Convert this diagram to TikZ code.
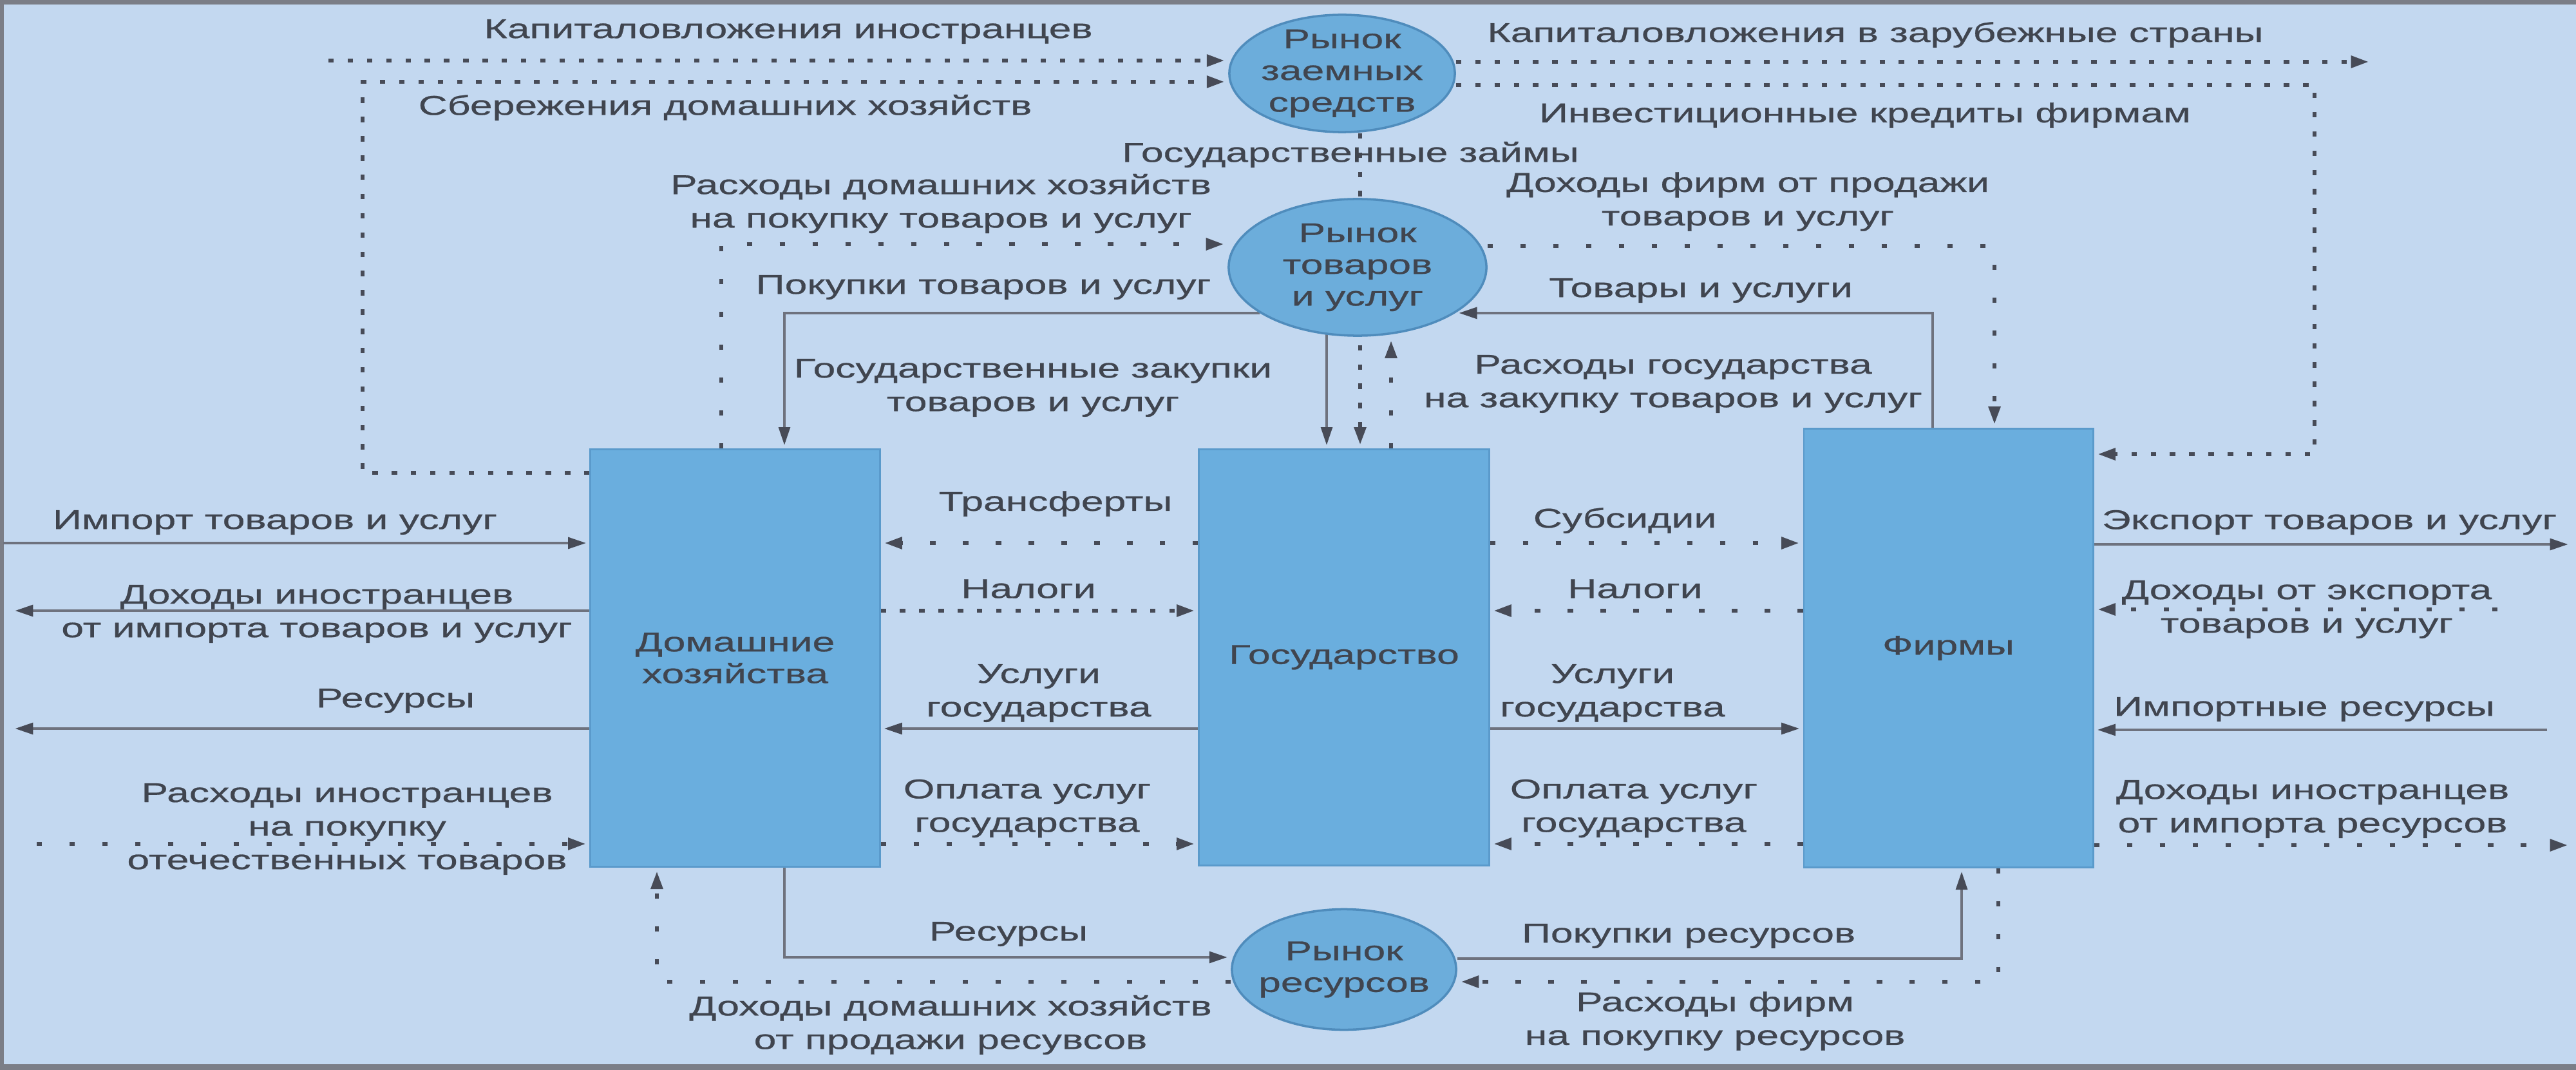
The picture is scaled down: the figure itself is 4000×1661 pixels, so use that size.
\documentclass[tikz,border=0pt]{standalone}
\usepackage{fontspec}
\setmainfont{Liberation Sans}[FakeStretch=1.48,FakeBold=0.6]
\usetikzlibrary{arrows.meta,shapes.geometric}
\definecolor{bgc}{HTML}{C3D8F0}
\definecolor{boxc}{HTML}{6AAEDE}
\definecolor{boxd}{HTML}{5A9ACB}
\definecolor{ellc}{HTML}{6CADDB}
\definecolor{elld}{HTML}{4F8CBC}
\definecolor{txt}{HTML}{40454F}
\definecolor{ln}{HTML}{6E727E}
\definecolor{dt}{HTML}{474B57}
\definecolor{rim}{HTML}{7B7E87}
\pgfdeclarelayer{bg}
\pgfdeclarelayer{edges}
\pgfsetlayers{bg,edges,main}
\tikzset{
  lbl/.style={text=txt, font=\fontsize{12}{14.8}\selectfont, align=center, inner sep=0pt},
  intext/.style={text=txt, font=\fontsize{12}{14}\selectfont, align=center, inner sep=0pt},
  agent/.style={rectangle, draw=boxd, line width=0.8pt, fill=boxc, text=txt,
    font=\fontsize{12}{14}\selectfont, align=center, inner sep=0pt},
  mkt/.style={ellipse, draw=elld, line width=1pt, fill=ellc, inner sep=0pt},
  tip/.style={-{Triangle[length=8pt,width=5pt,color=dt]}, shorten >=1.5pt},
  solidflow/.style={draw=ln, line width=1.2pt, tip},
  denseflow/.style={draw=dt, line width=1.9pt, dash pattern=on 2.4pt off 6.1pt, tip},
  sparseflow/.style={draw=dt, line width=1.9pt, dash pattern=on 2.4pt off 12.1pt, tip},
}
\begin{document}
\begin{tikzpicture}[x=0.01cm, y=-0.01cm]
\path[use as bounding box] (0,0) rectangle (4000,1661);
\begin{pgfonlayer}{bg}
  \fill[bgc] (0,0) rectangle (4000,1661);
  \fill[rim] (0,0) rectangle (4000,7);
  \fill[rim] (0,1652) rectangle (4000,1661);
  \fill[rim] (0,0) rectangle (6,1661);
\end{pgfonlayer}

% agents
\node[agent, minimum width=4.49cm, minimum height=6.47cm] (dom) at (1141.5,1021.5) {Домашние\\хозяйства};
\node[agent, minimum width=4.5cm, minimum height=6.45cm] (gov) at (2087,1020.5) {Государство};
\node[agent, minimum width=4.49cm, minimum height=6.8cm] (firms) at (3025.5,1006) {Фирмы};

% markets
\node[mkt, minimum width=3.5cm, minimum height=1.82cm] (L) at (2084,114) {};
\node[intext] (Lt) at (L) {Рынок\\заемных\\средств};
\node[mkt, minimum width=4cm, minimum height=2.12cm] (G) at (2108,415) {};
\node[intext] (Gt) at (G) {Рынок\\товаров\\и услуг};
\node[mkt, minimum width=3.48cm, minimum height=1.87cm] (R) at (2087,1505) {};
\node[intext] (Rt) at (R) {Рынок\\ресурсов};

% helper coordinates
\coordinate (yA) at (0,843);
\coordinate (yB) at (0,948);
\coordinate (yC) at (0,1131);
\coordinate (yD) at (0,1310);

\begin{pgfonlayer}{edges}
  % left of households
  \coordinate (wA) at (5,843);
  \draw[solidflow] (wA) -- (dom.west |- wA);
  \coordinate (wB) at (18,948);
  \draw[solidflow] (dom.west |- wB) -- (wB);
  \coordinate (wC) at (18,1131);
  \draw[solidflow] (dom.west |- wC) -- (wC);
  \coordinate (wD) at (57,1310);
  \draw[sparseflow] (wD) -- (dom.west |- wD);
  % right of firms
  \coordinate (eA) at (3993,845);
  \draw[solidflow] (firms.east |- eA) -- (eA);
  \coordinate (eB) at (3878,946);
  \draw[sparseflow] (eB) -- (firms.east |- eB);
  \coordinate (eC) at (3955,1133);
  \draw[solidflow] (eC) -- (firms.east |- eC);
  \coordinate (eD) at (3993,1312);
  \draw[sparseflow] (firms.east |- eD) -- (eD);
  % households <-> government
  \draw[sparseflow] (gov.west |- yA) -- (dom.east |- yA);
  \draw[denseflow] (dom.east |- yB) -- (gov.west |- yB);
  \draw[solidflow] (gov.west |- yC) -- (dom.east |- yC);
  \draw[sparseflow] (dom.east |- yD) -- (gov.west |- yD);
  % government <-> firms
  \draw[sparseflow] (gov.east |- yA) -- (firms.west |- yA);
  \draw[sparseflow] (firms.west |- yB) -- (gov.east |- yB);
  \draw[solidflow] (gov.east |- yC) -- (firms.west |- yC);
  \draw[sparseflow] (firms.west |- yD) -- (gov.east |- yD);
  % loan market
  \coordinate (kI) at (510,94);
  \draw[denseflow] (kI) -- (L.west |- kI);
  \coordinate (svA) at (563,734);
  \coordinate (svB) at (563,127);
  \draw[denseflow] (dom.west |- svA) -- (svA) -- (svB) -- (L.west |- svB);
  \coordinate (kZ) at (3684,96);
  \draw[denseflow] (L.east |- kZ) -- (kZ);
  \coordinate (ikA) at (3594,132);
  \coordinate (ikB) at (3594,705);
  \draw[denseflow] (L.east |- ikA) -- (ikA) -- (ikB) -- (firms.east |- ikB);
  \coordinate (gz) at (2112,0);
  \draw[denseflow] (L.south -| gz) -- (gov.north -| gz);
  % goods market
  \coordinate (g1) at (2060,0);
  \coordinate (g3) at (2160,0);
  \draw[solidflow] (G.center -| g1) -- (gov.north -| g1);
  \draw[sparseflow] (gov.north -| g3) -- (G.south -| g3);
  \coordinate (rd) at (1120,379);
  \draw[sparseflow] (dom.north -| rd) -- (rd) -- (G.west |- rd);
  \coordinate (pt) at (1218,0);
  \draw[solidflow] (G.205) -| (dom.north -| pt);
  \coordinate (df) at (3097,382);
  \draw[sparseflow] (G.east |- df) -- (df) -- (firms.north -| df);
  \coordinate (tu) at (3001,0);
  \draw[solidflow] (firms.north -| tu) |- (G.-25);
  % resource market
  \coordinate (rs) at (1218,1486);
  \draw[solidflow] (dom.south -| rs) -- (rs) -- (R.west |- rs);
  \coordinate (dd) at (1020,1524);
  \draw[sparseflow] (R.west |- dd) -- (dd) -- (dom.south -| dd);
  \coordinate (pr) at (3046,1488);
  \draw[solidflow] (R.east |- pr) -- (pr) -- (firms.south -| pr);
  \coordinate (rf) at (3103,1524);
  \draw[sparseflow] (firms.south -| rf) -- (rf) -- (R.east |- rf);
\end{pgfonlayer}

% labels
\node[lbl] (t1) at (1224,49) {Капиталовложения иностранцев};
\node[lbl] (t2) at (1126,167) {Сбережения домашних хозяйств};
\node[lbl] (t3) at (2912,54) {Капиталовложения в зарубежные страны};
\node[lbl] (t4) at (2896,179) {Инвестиционные кредиты фирмам};
\node[lbl] (t5) at (2097,240) {Государственные займы};
\node[lbl] (t6) at (1461,316) {Расходы домашних хозяйств\\на покупку товаров и услуг};
\node[lbl] (t7) at (2714,313) {Доходы фирм от продажи\\товаров и услуг};
\node[lbl] (t8) at (1527,446) {Покупки товаров и услуг};
\node[lbl] (t9) at (2641,451) {Товары и услуги};
\node[lbl] (t10) at (1604,602) {Государственные закупки\\товаров и услуг};
\node[lbl] (t11) at (2598,596) {Расходы государства\\на закупку товаров и услуг};
\node[lbl] (t12) at (1639,782) {Трансферты};
\node[lbl] (t13) at (1597,914) {Налоги};
\node[lbl] (t14) at (1613,1076) {Услуги\\государства};
\node[lbl] (t15) at (1595,1255) {Оплата услуг\\государства};
\node[lbl] (t16) at (2523,808) {Субсидии};
\node[lbl] (t17) at (2539,914) {Налоги};
\node[lbl] (t18) at (2504,1076) {Услуги\\государства};
\node[lbl] (t19) at (2537,1255) {Оплата услуг\\государства};
\node[lbl] (t20) at (427,811) {Импорт товаров и услуг};
\node[lbl] (t21) at (492,953) {Доходы иностранцев\\от импорта товаров и услуг};
\node[lbl] (t22) at (614,1088) {Ресурсы};
\node[lbl] (t23) at (539,1287) {Расходы иностранцев\\на покупку\\отечественных товаров};
\node[lbl] (t24) at (3617,811) {Экспорт товаров и услуг};
\node[lbl] (t25) at (3582,946) {Доходы от экспорта\\товаров и услуг};
\node[lbl] (t26) at (3578,1101) {Импортные ресурсы};
\node[lbl] (t27) at (3591,1256) {Доходы иностранцев\\от импорта ресурсов};
\node[lbl] (t28) at (1566,1450) {Ресурсы};
\node[lbl] (t29) at (1476,1591) {Доходы домашних хозяйств\\от продажи ресувсов};
\node[lbl] (t30) at (2622,1453) {Покупки ресурсов};
\node[lbl] (t31) at (2663,1585) {Расходы фирм\\на покупку ресурсов};
\end{tikzpicture}
\end{document}
